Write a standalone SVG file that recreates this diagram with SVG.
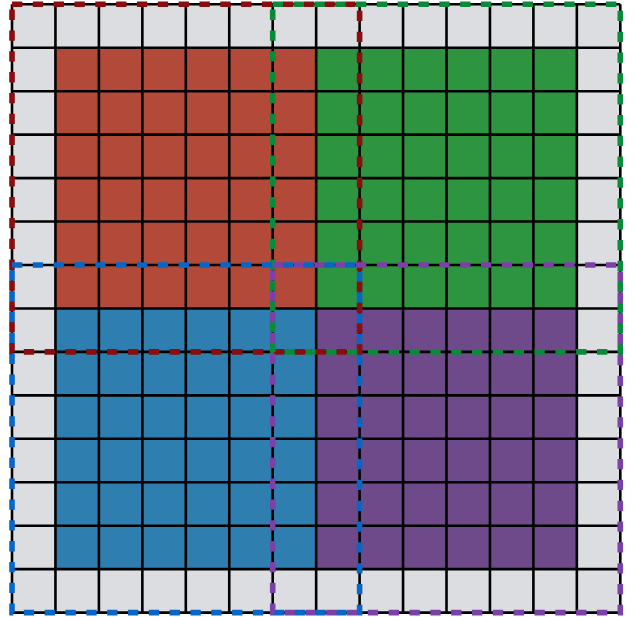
<svg xmlns="http://www.w3.org/2000/svg" width="635" height="617" viewBox="0 0 635 617">
  <style>
    .grid { fill: none; stroke: #000; stroke-width: 2.6; }
    .box { fill: none; stroke-width: 5.6; stroke-dasharray: 10.3 10.53; }
  </style>
  <rect x="0" y="0" width="635" height="617" fill="#ffffff"/>
  <rect id="background" x="12" y="4.3" width="608.3" height="608.3" fill="#dcdde0"/>
  <g id="quadrant-red"><rect x="55.45" y="47.75" width="260.7" height="260.7" fill="#b34a39"/></g>
  <g id="quadrant-green"><rect x="316.15" y="47.75" width="260.7" height="260.7" fill="#2d953f"/></g>
  <g id="quadrant-blue"><rect x="55.45" y="308.45" width="260.7" height="260.7" fill="#2e7eaf"/></g>
  <g id="quadrant-purple"><rect x="316.15" y="308.45" width="260.7" height="260.7" fill="#6e4a8b"/></g>
  <path class="grid" d="M12 4.3V612.6M55.45 4.3V612.6M98.9 4.3V612.6M142.35 4.3V612.6M185.8 4.3V612.6M229.25 4.3V612.6M272.7 4.3V612.6M316.15 4.3V612.6M359.6 4.3V612.6M403.05 4.3V612.6M446.5 4.3V612.6M489.95 4.3V612.6M533.4 4.3V612.6M576.85 4.3V612.6M620.3 4.3V612.6M12 4.3H620.3M12 47.75H620.3M12 91.2H620.3M12 134.65H620.3M12 178.1H620.3M12 221.55H620.3M12 265H620.3M12 308.45H620.3M12 351.9H620.3M12 395.35H620.3M12 438.8H620.3M12 482.25H620.3M12 525.7H620.3M12 569.15H620.3M12 612.6H620.3"/>
  <g id="connectors">
    <g id="box-red"><rect class="box" x="12" y="4.3" width="347.6" height="347.6" stroke="#8b0d0d"/></g>
    <g id="box-green"><rect class="box" x="272.7" y="4.3" width="347.6" height="347.6" stroke="#0a8b3b"/></g>
    <g id="box-blue"><rect class="box" x="12" y="265" width="347.6" height="347.6" stroke="#0767c7"/></g>
    <g id="box-purple"><rect class="box" x="272.7" y="265" width="347.6" height="347.6" stroke="#7c41a6"/></g>
  </g>
</svg>
